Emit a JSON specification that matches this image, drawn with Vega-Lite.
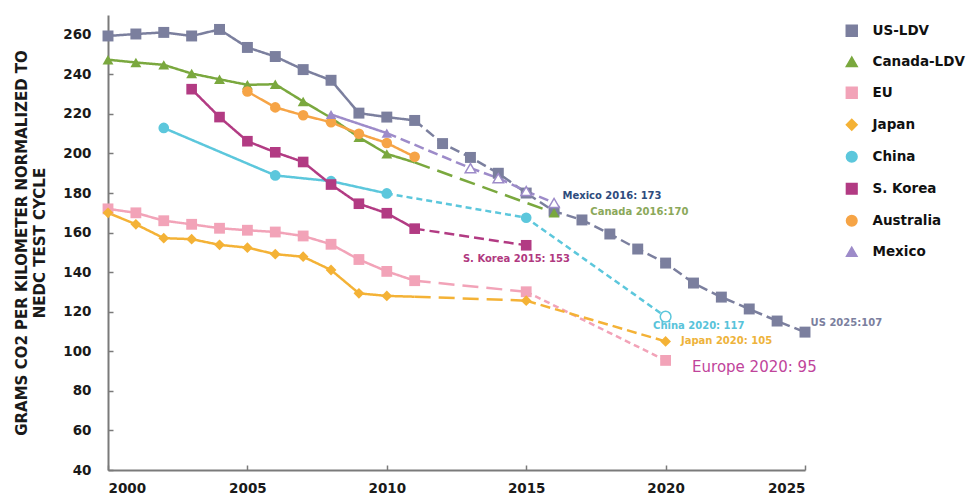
{
  "$schema": "https://vega.github.io/schema/vega-lite/v6.json",
  "width": 697,
  "height": 455,
  "autosize": {"type": "none"},
  "padding": {"left": 108, "top": 15, "right": 166, "bottom": 25},
  "background": "white",
  "config": {
    "view": {"stroke": null},
    "font": "DejaVu Sans",
    "axisX": {"grid": false, "labelFont": "DejaVu Sans", "labelFontWeight": "bold", "labelFontSize": 13.5, "labelColor": "#1a1a1a", "domainColor": "#7a7a7a", "domainWidth": 2, "tickColor": "#7a7a7a", "tickWidth": 1.5, "tickSize": -5, "labelPadding": 16},
    "axisY": {"grid": false, "labelFont": "DejaVu Sans", "labelFontWeight": "bold", "labelFontSize": 13.5, "labelColor": "#1a1a1a", "domainColor": "#7a7a7a", "domainWidth": 2, "tickColor": "#7a7a7a", "tickWidth": 1.5, "tickSize": -5, "labelPadding": 22, "titleFont": "DejaVu Sans", "titleFontWeight": "bold", "titleFontSize": 15, "titleColor": "#1a1a1a", "titleLineHeight": 18, "titlePadding": 15}
  },
  "datasets": {
    "series": [
      {"c": "US-LDV", "yr": 2000, "v": 259.4, "seg": "US1", "dash": "solid", "mk": "f"},
      {"c": "US-LDV", "yr": 2001, "v": 260.4, "seg": "US1", "dash": "solid", "mk": "f"},
      {"c": "US-LDV", "yr": 2002, "v": 261.2, "seg": "US1", "dash": "solid", "mk": "f"},
      {"c": "US-LDV", "yr": 2003, "v": 259.4, "seg": "US1", "dash": "solid", "mk": "f"},
      {"c": "US-LDV", "yr": 2004, "v": 262.7, "seg": "US1", "dash": "solid", "mk": "f"},
      {"c": "US-LDV", "yr": 2005, "v": 253.6, "seg": "US1", "dash": "solid", "mk": "f"},
      {"c": "US-LDV", "yr": 2006, "v": 249.0, "seg": "US1", "dash": "solid", "mk": "f"},
      {"c": "US-LDV", "yr": 2007, "v": 242.4, "seg": "US1", "dash": "solid", "mk": "f"},
      {"c": "US-LDV", "yr": 2008, "v": 237.0, "seg": "US1", "dash": "solid", "mk": "f"},
      {"c": "US-LDV", "yr": 2009, "v": 220.4, "seg": "US1", "dash": "solid", "mk": "f"},
      {"c": "US-LDV", "yr": 2010, "v": 218.4, "seg": "US1", "dash": "solid", "mk": "f"},
      {"c": "US-LDV", "yr": 2011, "v": 216.7, "seg": "US1", "dash": "solid", "mk": "f"},
      {"c": "US-LDV", "yr": 2011, "v": 216.7, "seg": "US2", "dash": "med", "mk": "n"},
      {"c": "US-LDV", "yr": 2012, "v": 205.0, "seg": "US2", "dash": "med", "mk": "f"},
      {"c": "US-LDV", "yr": 2013, "v": 198.0, "seg": "US2", "dash": "med", "mk": "f"},
      {"c": "US-LDV", "yr": 2014, "v": 190.0, "seg": "US2", "dash": "med", "mk": "f"},
      {"c": "US-LDV", "yr": 2015, "v": 180.0, "seg": "US2", "dash": "med", "mk": "f"},
      {"c": "US-LDV", "yr": 2016, "v": 170.8, "seg": "US2", "dash": "med", "mk": "f"},
      {"c": "US-LDV", "yr": 2017, "v": 166.4, "seg": "US2", "dash": "med", "mk": "f"},
      {"c": "US-LDV", "yr": 2018, "v": 159.3, "seg": "US2", "dash": "med", "mk": "f"},
      {"c": "US-LDV", "yr": 2019, "v": 151.7, "seg": "US2", "dash": "med", "mk": "f"},
      {"c": "US-LDV", "yr": 2020, "v": 144.6, "seg": "US2", "dash": "med", "mk": "f"},
      {"c": "US-LDV", "yr": 2021, "v": 134.5, "seg": "US2", "dash": "med", "mk": "f"},
      {"c": "US-LDV", "yr": 2022, "v": 127.4, "seg": "US2", "dash": "med", "mk": "f"},
      {"c": "US-LDV", "yr": 2023, "v": 121.4, "seg": "US2", "dash": "med", "mk": "f"},
      {"c": "US-LDV", "yr": 2024, "v": 115.3, "seg": "US2", "dash": "med", "mk": "f"},
      {"c": "US-LDV", "yr": 2025, "v": 109.7, "seg": "US2", "dash": "med", "mk": "f"},
      {"c": "Canada-LDV", "yr": 2000, "v": 247.4, "seg": "CA1", "dash": "solid", "mk": "f"},
      {"c": "Canada-LDV", "yr": 2001, "v": 246.0, "seg": "CA1", "dash": "solid", "mk": "f"},
      {"c": "Canada-LDV", "yr": 2002, "v": 244.8, "seg": "CA1", "dash": "solid", "mk": "f"},
      {"c": "Canada-LDV", "yr": 2003, "v": 240.4, "seg": "CA1", "dash": "solid", "mk": "f"},
      {"c": "Canada-LDV", "yr": 2004, "v": 237.5, "seg": "CA1", "dash": "solid", "mk": "f"},
      {"c": "Canada-LDV", "yr": 2005, "v": 234.7, "seg": "CA1", "dash": "solid", "mk": "f"},
      {"c": "Canada-LDV", "yr": 2006, "v": 235.0, "seg": "CA1", "dash": "solid", "mk": "f"},
      {"c": "Canada-LDV", "yr": 2007, "v": 226.3, "seg": "CA1", "dash": "solid", "mk": "f"},
      {"c": "Canada-LDV", "yr": 2008, "v": 218.0, "seg": "CA1", "dash": "solid", "mk": "f"},
      {"c": "Canada-LDV", "yr": 2009, "v": 208.2, "seg": "CA1", "dash": "solid", "mk": "f"},
      {"c": "Canada-LDV", "yr": 2010, "v": 199.8, "seg": "CA1", "dash": "solid", "mk": "f"},
      {"c": "Canada-LDV", "yr": 2011, "v": 195.5, "seg": "CA1", "dash": "solid", "mk": "n"},
      {"c": "Canada-LDV", "yr": 2011, "v": 195.5, "seg": "CA2", "dash": "long", "mk": "n"},
      {"c": "Canada-LDV", "yr": 2016, "v": 170.0, "seg": "CA2", "dash": "long", "mk": "f"},
      {"c": "EU", "yr": 2000, "v": 172.0, "seg": "EU1", "dash": "solid", "mk": "f"},
      {"c": "EU", "yr": 2001, "v": 170.0, "seg": "EU1", "dash": "solid", "mk": "f"},
      {"c": "EU", "yr": 2002, "v": 166.0, "seg": "EU1", "dash": "solid", "mk": "f"},
      {"c": "EU", "yr": 2003, "v": 164.2, "seg": "EU1", "dash": "solid", "mk": "f"},
      {"c": "EU", "yr": 2004, "v": 162.2, "seg": "EU1", "dash": "solid", "mk": "f"},
      {"c": "EU", "yr": 2005, "v": 161.2, "seg": "EU1", "dash": "solid", "mk": "f"},
      {"c": "EU", "yr": 2006, "v": 160.3, "seg": "EU1", "dash": "solid", "mk": "f"},
      {"c": "EU", "yr": 2007, "v": 158.3, "seg": "EU1", "dash": "solid", "mk": "f"},
      {"c": "EU", "yr": 2008, "v": 154.1, "seg": "EU1", "dash": "solid", "mk": "f"},
      {"c": "EU", "yr": 2009, "v": 146.4, "seg": "EU1", "dash": "solid", "mk": "f"},
      {"c": "EU", "yr": 2010, "v": 140.4, "seg": "EU1", "dash": "solid", "mk": "f"},
      {"c": "EU", "yr": 2011, "v": 135.7, "seg": "EU1", "dash": "solid", "mk": "f"},
      {"c": "EU", "yr": 2011, "v": 135.7, "seg": "EU2", "dash": "long", "mk": "n"},
      {"c": "EU", "yr": 2015, "v": 130.1, "seg": "EU2", "dash": "long", "mk": "f"},
      {"c": "EU", "yr": 2015, "v": 130.1, "seg": "EU3", "dash": "short", "mk": "n"},
      {"c": "EU", "yr": 2020, "v": 95.4, "seg": "EU3", "dash": "short", "mk": "f"},
      {"c": "Japan", "yr": 2000, "v": 170.0, "seg": "JP1", "dash": "solid", "mk": "f"},
      {"c": "Japan", "yr": 2001, "v": 164.2, "seg": "JP1", "dash": "solid", "mk": "f"},
      {"c": "Japan", "yr": 2002, "v": 157.2, "seg": "JP1", "dash": "solid", "mk": "f"},
      {"c": "Japan", "yr": 2003, "v": 156.7, "seg": "JP1", "dash": "solid", "mk": "f"},
      {"c": "Japan", "yr": 2004, "v": 153.8, "seg": "JP1", "dash": "solid", "mk": "f"},
      {"c": "Japan", "yr": 2005, "v": 152.4, "seg": "JP1", "dash": "solid", "mk": "f"},
      {"c": "Japan", "yr": 2006, "v": 149.1, "seg": "JP1", "dash": "solid", "mk": "f"},
      {"c": "Japan", "yr": 2007, "v": 147.8, "seg": "JP1", "dash": "solid", "mk": "f"},
      {"c": "Japan", "yr": 2008, "v": 141.1, "seg": "JP1", "dash": "solid", "mk": "f"},
      {"c": "Japan", "yr": 2009, "v": 129.3, "seg": "JP1", "dash": "solid", "mk": "f"},
      {"c": "Japan", "yr": 2010, "v": 128.0, "seg": "JP1", "dash": "solid", "mk": "f"},
      {"c": "Japan", "yr": 2011, "v": 127.6, "seg": "JP1", "dash": "solid", "mk": "n"},
      {"c": "Japan", "yr": 2011, "v": 127.6, "seg": "JP2", "dash": "long", "mk": "n"},
      {"c": "Japan", "yr": 2015, "v": 125.6, "seg": "JP2", "dash": "long", "mk": "f"},
      {"c": "Japan", "yr": 2015, "v": 125.6, "seg": "JP3", "dash": "med", "mk": "n"},
      {"c": "Japan", "yr": 2020, "v": 105.0, "seg": "JP3", "dash": "med", "mk": "f"},
      {"c": "China", "yr": 2002, "v": 212.9, "seg": "CN1", "dash": "solid", "mk": "f"},
      {"c": "China", "yr": 2006, "v": 188.9, "seg": "CN1", "dash": "solid", "mk": "f"},
      {"c": "China", "yr": 2008, "v": 186.0, "seg": "CN1", "dash": "solid", "mk": "f"},
      {"c": "China", "yr": 2010, "v": 179.8, "seg": "CN1", "dash": "solid", "mk": "f"},
      {"c": "China", "yr": 2010, "v": 179.8, "seg": "CN2", "dash": "short", "mk": "n"},
      {"c": "China", "yr": 2015, "v": 167.5, "seg": "CN2", "dash": "short", "mk": "f"},
      {"c": "China", "yr": 2020, "v": 117.5, "seg": "CN2", "dash": "short", "mk": "o"},
      {"c": "S. Korea", "yr": 2003, "v": 232.5, "seg": "KR1", "dash": "solid", "mk": "f"},
      {"c": "S. Korea", "yr": 2004, "v": 218.4, "seg": "KR1", "dash": "solid", "mk": "f"},
      {"c": "S. Korea", "yr": 2005, "v": 206.2, "seg": "KR1", "dash": "solid", "mk": "f"},
      {"c": "S. Korea", "yr": 2006, "v": 200.6, "seg": "KR1", "dash": "solid", "mk": "f"},
      {"c": "S. Korea", "yr": 2007, "v": 195.7, "seg": "KR1", "dash": "solid", "mk": "f"},
      {"c": "S. Korea", "yr": 2008, "v": 184.3, "seg": "KR1", "dash": "solid", "mk": "f"},
      {"c": "S. Korea", "yr": 2009, "v": 174.6, "seg": "KR1", "dash": "solid", "mk": "f"},
      {"c": "S. Korea", "yr": 2010, "v": 169.8, "seg": "KR1", "dash": "solid", "mk": "f"},
      {"c": "S. Korea", "yr": 2011, "v": 162.0, "seg": "KR1", "dash": "solid", "mk": "f"},
      {"c": "S. Korea", "yr": 2011, "v": 162.0, "seg": "KR2", "dash": "med", "mk": "n"},
      {"c": "S. Korea", "yr": 2015, "v": 153.6, "seg": "KR2", "dash": "med", "mk": "f"},
      {"c": "Australia", "yr": 2005, "v": 231.3, "seg": "AU1", "dash": "solid", "mk": "f"},
      {"c": "Australia", "yr": 2006, "v": 223.3, "seg": "AU1", "dash": "solid", "mk": "f"},
      {"c": "Australia", "yr": 2007, "v": 219.3, "seg": "AU1", "dash": "solid", "mk": "f"},
      {"c": "Australia", "yr": 2008, "v": 215.8, "seg": "AU1", "dash": "solid", "mk": "f"},
      {"c": "Australia", "yr": 2009, "v": 210.0, "seg": "AU1", "dash": "solid", "mk": "f"},
      {"c": "Australia", "yr": 2010, "v": 205.3, "seg": "AU1", "dash": "solid", "mk": "f"},
      {"c": "Australia", "yr": 2011, "v": 198.3, "seg": "AU1", "dash": "solid", "mk": "f"},
      {"c": "Mexico", "yr": 2008, "v": 219.7, "seg": "MX1", "dash": "solid", "mk": "f"},
      {"c": "Mexico", "yr": 2010, "v": 210.3, "seg": "MX1", "dash": "solid", "mk": "f"},
      {"c": "Mexico", "yr": 2010, "v": 210.3, "seg": "MX2", "dash": "med", "mk": "n"},
      {"c": "Mexico", "yr": 2013, "v": 192.6, "seg": "MX2", "dash": "med", "mk": "o"},
      {"c": "Mexico", "yr": 2014, "v": 187.5, "seg": "MX2", "dash": "med", "mk": "o"},
      {"c": "Mexico", "yr": 2015, "v": 181.0, "seg": "MX2", "dash": "med", "mk": "o"},
      {"c": "Mexico", "yr": 2016, "v": 175.0, "seg": "MX2", "dash": "med", "mk": "o"}
    ],
    "labels": [
      {"t": "Mexico 2016: 173", "yr": 2016.3, "v": 178.5},
      {"t": "Canada 2016:170", "yr": 2017.3, "v": 170.4},
      {"t": "S. Korea 2015: 153", "yr": 2012.73, "v": 146.6},
      {"t": "China 2020: 117", "yr": 2019.55, "v": 112.8},
      {"t": "Japan 2020: 105", "yr": 2020.55, "v": 105.2},
      {"t": "US 2025:107", "yr": 2025.2, "v": 114.3},
      {"t": "Europe 2020: 95", "yr": 2020.95, "v": 92}
    ]
  },
  "encoding": {
    "x": {"field": "yr", "type": "quantitative", "scale": {"domain": [2000, 2025], "nice": false, "zero": false}, "axis": {"values": [2000, 2005, 2010, 2015, 2020, 2025], "format": "d", "title": null}},
    "y": {"field": "v", "type": "quantitative", "scale": {"domain": [40, 270], "nice": false, "zero": false}, "axis": {"values": [40, 60, 80, 100, 120, 140, 160, 180, 200, 220, 240, 260], "title": ["GRAMS CO2 PER KILOMETER NORMALIZED TO", "NEDC TEST CYCLE"]}}
  },
  "layer": [
    {
      "data": {"name": "series"},
      "encoding": {
        "color": {
          "field": "c", "type": "nominal",
          "scale": {"domain": ["US-LDV", "Canada-LDV", "EU", "Japan", "China", "S. Korea", "Australia", "Mexico"], "range": ["#7b7f9e", "#7aa83e", "#f2a3b8", "#f4b236", "#5cc7dc", "#b23b83", "#f6a446", "#9d8bc9"]},
          "legend": {"title": null, "orient": "right", "offset": 26, "padding": 9, "direction": "vertical", "symbolSize": 130, "labelFont": "DejaVu Sans", "labelFontWeight": "bold", "labelFontSize": 13.5, "labelColor": "#111111", "labelOffset": 14, "rowPadding": 14}
        }
      },
      "layer": [
        {
          "mark": {"type": "line", "strokeWidth": 2.5},
          "encoding": {
            "detail": {"field": "seg", "type": "nominal"},
            "strokeDash": {"field": "dash", "type": "nominal", "scale": {"domain": ["solid", "med", "long", "short"], "range": [[1, 0], [10, 5], [16, 8], [6, 4]]}, "legend": null}
          }
        },
        {
          "transform": [{"filter": "datum.mk === 'f'"}],
          "mark": {"type": "point", "filled": true, "opacity": 1},
          "encoding": {
            "shape": {"field": "c", "type": "nominal", "scale": {"domain": ["US-LDV", "Canada-LDV", "EU", "Japan", "China", "S. Korea", "Australia", "Mexico"], "range": ["square", "triangle-up", "square", "diamond", "circle", "square", "circle", "triangle-up"]}, "legend": null},
            "size": {"field": "c", "type": "nominal", "scale": {"domain": ["US-LDV", "Canada-LDV", "EU", "Japan", "China", "S. Korea", "Australia", "Mexico"], "range": [120, 110, 120, 60, 95, 120, 100, 150]}, "legend": null}
          }
        },
        {
          "transform": [{"filter": "datum.mk === 'o'"}],
          "mark": {"type": "point", "filled": false, "fill": "white", "fillOpacity": 1, "strokeWidth": 1.5, "opacity": 1},
          "encoding": {
            "shape": {"field": "c", "type": "nominal", "scale": {"domain": ["US-LDV", "Canada-LDV", "EU", "Japan", "China", "S. Korea", "Australia", "Mexico"], "range": ["square", "triangle-up", "square", "diamond", "circle", "square", "circle", "triangle-up"]}, "legend": null},
            "size": {"field": "c", "type": "nominal", "scale": {"domain": ["US-LDV", "Canada-LDV", "EU", "Japan", "China", "S. Korea", "Australia", "Mexico"], "range": [120, 110, 120, 60, 95, 120, 100, 150]}, "legend": null}
          }
        }
      ]
    },
    {"data": {"name": "labels"}, "transform": [{"filter": "datum.t === 'Mexico 2016: 173'"}], "mark": {"type": "text", "align": "left", "baseline": "middle", "font": "DejaVu Sans", "fontWeight": "bold", "fontSize": 10, "color": "#2e4b7d"}, "encoding": {"text": {"field": "t", "type": "nominal"}}},
    {"data": {"name": "labels"}, "transform": [{"filter": "datum.t === 'Canada 2016:170'"}], "mark": {"type": "text", "align": "left", "baseline": "middle", "font": "DejaVu Sans", "fontWeight": "bold", "fontSize": 10, "color": "#8ba85a"}, "encoding": {"text": {"field": "t", "type": "nominal"}}},
    {"data": {"name": "labels"}, "transform": [{"filter": "datum.t === 'S. Korea 2015: 153'"}], "mark": {"type": "text", "align": "left", "baseline": "middle", "font": "DejaVu Sans", "fontWeight": "bold", "fontSize": 10, "color": "#b0397f"}, "encoding": {"text": {"field": "t", "type": "nominal"}}},
    {"data": {"name": "labels"}, "transform": [{"filter": "datum.t === 'China 2020: 117'"}], "mark": {"type": "text", "align": "left", "baseline": "middle", "font": "DejaVu Sans", "fontWeight": "bold", "fontSize": 10, "color": "#58c3da"}, "encoding": {"text": {"field": "t", "type": "nominal"}}},
    {"data": {"name": "labels"}, "transform": [{"filter": "datum.t === 'Japan 2020: 105'"}], "mark": {"type": "text", "align": "left", "baseline": "middle", "font": "DejaVu Sans", "fontWeight": "bold", "fontSize": 10, "color": "#eeb33a"}, "encoding": {"text": {"field": "t", "type": "nominal"}}},
    {"data": {"name": "labels"}, "transform": [{"filter": "datum.t === 'US 2025:107'"}], "mark": {"type": "text", "align": "left", "baseline": "middle", "font": "DejaVu Sans", "fontWeight": "bold", "fontSize": 10, "color": "#7b7f9e"}, "encoding": {"text": {"field": "t", "type": "nominal"}}},
    {"data": {"name": "labels"}, "transform": [{"filter": "datum.t === 'Europe 2020: 95'"}], "mark": {"type": "text", "align": "left", "baseline": "middle", "font": "DejaVu Sans", "fontSize": 15, "color": "#c0449b"}, "encoding": {"text": {"field": "t", "type": "nominal"}}}
  ]
}
